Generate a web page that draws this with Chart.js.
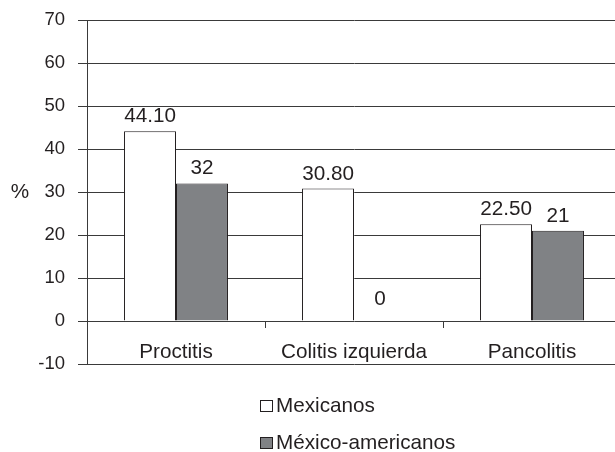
<!DOCTYPE html>
<html><head><meta charset="utf-8">
<script src="https://cdn.jsdelivr.net/npm/chart.js@4/dist/chart.umd.min.js"></script>
<style>
html,body{margin:0;padding:0;background:#fff;overflow:hidden;}
#wrap{width:640px;height:452px;position:relative;}
</style></head><body>
<div id="wrap"><canvas id="c"></canvas></div>
<script>
// Distribución de la extensión de la colitis ulcerosa
const categories = ['Proctitis', 'Colitis izquierda', 'Pancolitis'];
const seriesNames = ['Mexicanos', 'México-americanos'];
const mexicanos = [44.10, 30.80, 22.50];
const mexicoAmericanos = [32, 0, 21];
const mexicanosLabels = ['44.10', '30.80', '22.50'];
const mexicoAmericanosLabels = ['32', '0', '21'];
const yTicks = [-10, 0, 10, 20, 30, 40, 50, 60, 70];

const FONT = "'Liberation Sans', Arial, sans-serif";
const TEXT_SIZE = 20.7;
const INK = '#231f20';
const GRID = '#3a3a3a';
const GRAY = '#808285';

const valueLabels = {
  id: 'valueLabels',
  afterDatasetsDraw(chart) {
    const ctx = chart.ctx;
    const texts = [mexicanosLabels, mexicoAmericanosLabels];
    ctx.save();
    ctx.font = TEXT_SIZE + 'px ' + FONT;
    ctx.fillStyle = INK;
    ctx.textAlign = 'center';
    ctx.textBaseline = 'alphabetic';
    chart.data.datasets.forEach((ds, di) => {
      chart.getDatasetMeta(di).data.forEach((bar, i) => {
        const gap = ds.data[i] === 0 ? 16 : 9;
        ctx.fillText(texts[di][i], bar.x, bar.y - gap);
      });
    });
    ctx.restore();
  }
};

const extras = {
  id: 'extras',
  afterDraw(chart) {
    const ctx = chart.ctx;
    const area = chart.chartArea;
    ctx.save();
    // unidad del eje
    ctx.font = TEXT_SIZE + 'px ' + FONT;
    ctx.fillStyle = INK;
    ctx.textAlign = 'center';
    ctx.textBaseline = 'middle';
    ctx.fillText('%', 20, (area.top + area.bottom) / 2);
    // leyenda
    const fills = ['#ffffff', GRAY];
    ctx.textAlign = 'left';
    ctx.textBaseline = 'alphabetic';
    seriesNames.forEach((name, i) => {
      const y = 400.5 + i * 37;
      ctx.fillStyle = fills[i];
      ctx.fillRect(260.5, y, 12, 11);
      ctx.strokeStyle = INK;
      ctx.lineWidth = 1;
      ctx.strokeRect(260.5, y, 12, 11);
      ctx.fillStyle = INK;
      ctx.fillText(name, 276, y + 11.5);
    });
    ctx.restore();
  }
};

new Chart(document.getElementById('c'), {
  type: 'bar',
  data: {
    labels: categories,
    datasets: [
      { label: seriesNames[0], data: mexicanos, backgroundColor: '#ffffff', borderColor: INK, borderWidth: 1 },
      { label: seriesNames[1], data: mexicoAmericanos, backgroundColor: GRAY, borderColor: INK, borderWidth: 1 }
    ]
  },
  options: {
    responsive: true,
    maintainAspectRatio: false,
    animation: false,
    events: [],
    layout: { padding: { top: 20, right: 19, bottom: 88, left: 0 } },
    datasets: { bar: { categoryPercentage: 0.584, barPercentage: 1 } },
    plugins: { legend: { display: false }, tooltip: { enabled: false } },
    scales: {
      x: {
        position: { y: 0 },
        offset: true,
        grid: { display: true, drawOnChartArea: false, offset: true, tickLength: 7, color: GRID, lineWidth: 1 },
        border: { display: false },
        ticks: { color: INK, font: { family: FONT, size: TEXT_SIZE }, padding: 12, maxRotation: 0 }
      },
      y: {
        min: -10, max: 70,
        afterBuildTicks(scale) { scale.ticks = yTicks.map(v => ({ value: v })); },
        afterFit(scale) { scale.width = 87; scale.paddingTop = 0; scale.paddingBottom = 0; },
        grid: { color: GRID, lineWidth: 1, tickLength: 9 },
        border: { display: true, color: GRID, width: 1 },
        ticks: { color: INK, font: { family: FONT, size: 18.5, lineHeight: 1 }, padding: 13 }
      }
    }
  },
  plugins: [valueLabels, extras]
});
</script>
</body></html>
